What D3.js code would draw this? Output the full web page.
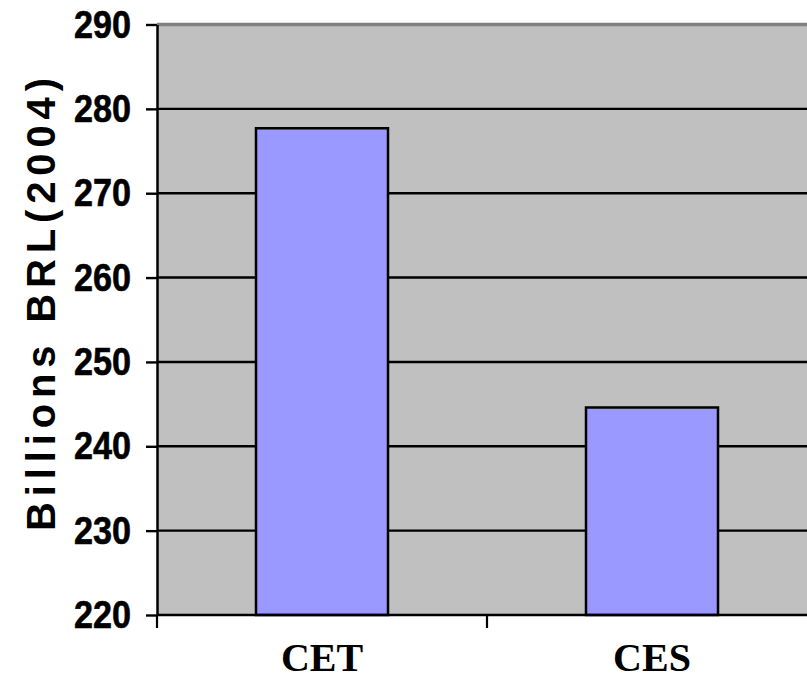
<!DOCTYPE html>
<html>
<head>
<meta charset="utf-8">
<script src="https://cdn.jsdelivr.net/npm/d3@7"></script>
<style>
  html, body { margin: 0; padding: 0; background: #ffffff; }
  svg { display: block; }
</style>
</head>
<body>
<div id="chart"></div>
<script>
// Chart data
const categories = ["CET", "CES"];
const values = [277.7, 244.6];
const yTicks = [220, 230, 240, 250, 260, 270, 280, 290];
const yTitle = "Billions BRL(2004)";

const width = 807, height = 681;
const plot = { left: 157, top: 24.5, right: 817, bottom: 615 };

const svg = d3.select("#chart").append("svg")
  .attr("width", width)
  .attr("height", height);

const x = d3.scaleBand()
  .domain(categories)
  .range([plot.left, plot.right])
  .paddingInner(0.6)
  .paddingOuter(0.3);

const y = d3.scaleLinear()
  .domain([220, 290])
  .range([plot.bottom, plot.top]);

// Plot area background
svg.append("rect")
  .attr("x", plot.left)
  .attr("y", plot.top)
  .attr("width", plot.right - plot.left)
  .attr("height", plot.bottom - plot.top)
  .attr("fill", "#c0c0c0");

// Horizontal gridlines
svg.append("g")
  .selectAll("line")
  .data(yTicks.filter(d => d > 220 && d < 290))
  .join("line")
  .attr("x1", plot.left)
  .attr("x2", plot.right)
  .attr("y1", d => y(d))
  .attr("y2", d => y(d))
  .attr("stroke", "#000")
  .attr("stroke-width", 2.4);

// Top frame edge
svg.append("line")
  .attr("x1", plot.left)
  .attr("x2", plot.right)
  .attr("y1", y(290))
  .attr("y2", y(290))
  .attr("stroke", "#808080")
  .attr("stroke-width", 3.5);

// Bars
svg.append("g")
  .selectAll("rect")
  .data(categories.map((c, i) => ({ c, v: values[i] })))
  .join("rect")
  .attr("x", d => x(d.c))
  .attr("y", d => y(d.v))
  .attr("width", x.bandwidth())
  .attr("height", d => y(220) - y(d.v))
  .attr("fill", "#9999ff")
  .attr("stroke", "#000")
  .attr("stroke-width", 2.5);

// Y axis
const yAxis = svg.append("g")
  .attr("transform", `translate(${plot.left},0)`)
  .call(d3.axisLeft(y).tickValues(yTicks).tickSize(11).tickSizeOuter(0).tickFormat(""));
yAxis.select(".domain").attr("stroke", "#000").attr("stroke-width", 2.5);
yAxis.selectAll(".tick line").attr("stroke", "#000").attr("stroke-width", 2.4);

// Y tick labels (slightly condensed bold sans)
svg.append("g")
  .selectAll("text")
  .data(yTicks)
  .join("text")
  .attr("transform", d => `translate(131,${y(d) + 13}) scale(0.9,1)`)
  .attr("text-anchor", "end")
  .attr("font-family", "Liberation Sans, Arial, sans-serif")
  .attr("font-weight", "bold")
  .attr("font-size", 38)
  .attr("stroke", "#000")
  .attr("stroke-width", 0.6)
  .attr("fill", "#000")
  .text(d => d);

// X axis
const xAxisScale = d3.scaleLinear().domain([0, categories.length]).range([plot.left, plot.right]);
svg.append("g")
  .selectAll("line")
  .data(d3.range(categories.length + 1))
  .join("line")
  .attr("x1", d => xAxisScale(d))
  .attr("x2", d => xAxisScale(d))
  .attr("y1", plot.bottom)
  .attr("y2", plot.bottom + 13)
  .attr("stroke", "#000")
  .attr("stroke-width", 2.2);
svg.append("line")
  .attr("x1", plot.left)
  .attr("x2", plot.right)
  .attr("y1", plot.bottom)
  .attr("y2", plot.bottom)
  .attr("stroke", "#000")
  .attr("stroke-width", 2.5);

// X category labels
svg.append("g")
  .selectAll("text")
  .data(categories)
  .join("text")
  .attr("x", d => x(d) + x.bandwidth() / 2)
  .attr("y", 671)
  .attr("text-anchor", "middle")
  .attr("font-family", "Liberation Serif, Times New Roman, serif")
  .attr("font-weight", "bold")
  .attr("font-size", 40)
  .attr("fill", "#000")
  .text(d => d);

// Y axis title
svg.append("text")
  .attr("transform", `translate(55,531) rotate(-90)`)
  .attr("text-anchor", "start")
  .attr("font-family", "Liberation Sans, Arial, sans-serif")
  .attr("font-weight", "bold")
  .attr("font-size", 40)
  .attr("textLength", 453)
  .attr("lengthAdjust", "spacing")
  .attr("fill", "#000")
  .text(yTitle);
</script>
</body>
</html>
